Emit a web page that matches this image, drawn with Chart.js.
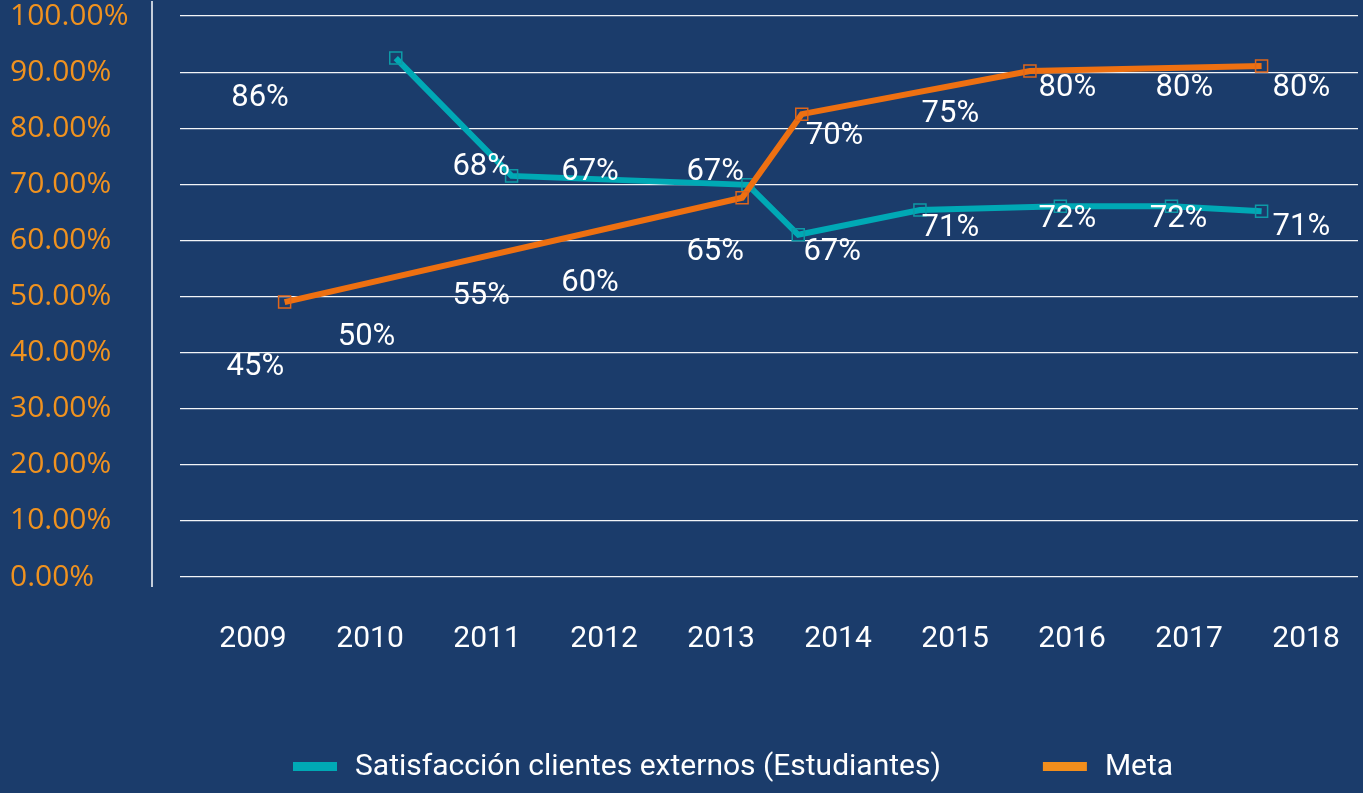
<!DOCTYPE html>
<html lang="es">
<head>
    <meta charset="UTF-8">
    <title>Satisfacción clientes externos</title>
    <script src="https://cdn.jsdelivr.net/npm/chart.js"></script>
    <style>
        body {
            margin: 0;
            background-color: #1b3c6b;
        }
        #wrap {
            width: 1363px;
            height: 793px;
        }
    </style>
</head>
<body>
    <div id="wrap"><canvas id="chart" width="1363" height="793"></canvas></div>
    <script>
        // categories and ticks
        const years = [2009, 2010, 2011, 2012, 2013, 2014, 2015, 2016, 2017, 2018];
        const yTicks = [0, 10, 20, 30, 40, 50, 60, 70, 80, 90, 100];
        const xMin = 2008.376;
        const xMax = 2018.444;

        // line vertices (year position, percent)
        const satX = [2010.22, 2011.21, 2013.23, 2013.66, 2014.70, 2015.90, 2016.85, 2017.62];
        const satY = [92.5, 71.5, 69.9, 61.0, 65.4, 66.1, 66.1, 65.2];
        const metaX = [2009.27, 2013.18, 2013.69, 2015.64, 2017.62];
        const metaY = [49.0, 67.6, 82.5, 90.2, 91.1];

        // data labels and where they sit
        const satLabels = ['86%', '68%', '67%', '67%', '67%', '71%', '72%', '72%', '71%'];
        const satLabelX = [2009.06, 2010.95, 2011.88, 2012.95, 2013.95, 2014.96, 2015.96, 2016.91, 2017.96];
        const satLabelY = [85.4, 73.1, 72.2, 72.2, 57.9, 62.2, 63.8, 63.8, 62.4];
        const metaLabels = ['45%', '50%', '55%', '60%', '65%', '70%', '75%', '80%', '80%', '80%'];
        const metaLabelX = [2009.02, 2009.97, 2010.95, 2011.88, 2012.95, 2013.97, 2014.96, 2015.96, 2016.96, 2017.96];
        const metaLabelY = [37.3, 42.8, 50.1, 52.4, 57.9, 78.6, 82.4, 87.1, 87.1, 87.1];

        const teal = '#00a9b5';
        const orange = '#ee7011';

        const toPoints = (xs, ys) => xs.map((x, i) => ({x: x, y: ys[i]}));

        // value labels on top of the lines
        const valueLabels = {
            id: 'valueLabels',
            afterDatasetsDraw(chart) {
                const {ctx, scales: {x, y}} = chart;
                const groups = [
                    [satLabels, satLabelX, satLabelY],
                    [metaLabels, metaLabelX, metaLabelY]
                ];
                ctx.save();
                ctx.font = '31px Roboto';
                ctx.fillStyle = '#ffffff';
                ctx.textAlign = 'center';
                ctx.textBaseline = 'middle';
                groups.forEach(([texts, xs, ys]) => {
                    texts.forEach((t, i) => {
                        ctx.fillText(t, x.getPixelForValue(xs[i]), y.getPixelForValue(ys[i]));
                    });
                });
                ctx.restore();
            }
        };

        // vertical axis line and legend
        const extras = {
            id: 'extras',
            afterDraw(chart) {
                const {ctx, chartArea} = chart;
                ctx.save();
                ctx.strokeStyle = '#ffffff';
                ctx.lineWidth = 1.5;
                ctx.beginPath();
                ctx.moveTo(chartArea.left - 28, chartArea.top - 15);
                ctx.lineTo(chartArea.left - 28, chartArea.bottom + 10);
                ctx.stroke();

                // legend
                const swatchColors = ['#00a9b5', '#f28e1c'];
                let lx = chartArea.left + 113;
                const ly = 767;
                ctx.font = '30px Roboto';
                ctx.textBaseline = 'middle';
                ctx.textAlign = 'left';
                chart.data.datasets.forEach((ds, i) => {
                    ctx.fillStyle = swatchColors[i];
                    ctx.fillRect(lx, ly - 5, 44, 9);
                    lx += 62;
                    ctx.fillStyle = '#ffffff';
                    ctx.fillText(ds.label, lx, ly);
                    lx += ctx.measureText(ds.label).width + 102;
                });
                ctx.restore();
            }
        };

        new Chart(document.getElementById('chart'), {
            type: 'line',
            data: {
                datasets: [
                    {
                        label: 'Satisfacción clientes externos (Estudiantes)',
                        data: toPoints(satX, satY),
                        borderColor: teal,
                        borderWidth: 6,
                        pointStyle: 'rect',
                        pointRadius: 8.5,
                        pointBorderWidth: 1.5,
                        pointBorderColor: '#0e9aa7',
                        pointBackgroundColor: 'transparent',
                        tension: 0,
                        order: 1
                    },
                    {
                        label: 'Meta',
                        data: toPoints(metaX, metaY),
                        borderColor: orange,
                        borderWidth: 6,
                        pointStyle: 'rect',
                        pointRadius: 8.5,
                        pointBorderWidth: 1.5,
                        pointBorderColor: '#e0661a',
                        pointBackgroundColor: 'transparent',
                        tension: 0,
                        order: 0
                    }
                ]
            },
            options: {
                responsive: false,
                animation: false,
                layout: {
                    autoPadding: false,
                    padding: {left: 10, top: 16, right: 5, bottom: 136}
                },
                plugins: {
                    legend: {display: false},
                    tooltip: {enabled: false}
                },
                scales: {
                    x: {
                        type: 'linear',
                        min: xMin,
                        max: xMax,
                        afterBuildTicks: (scale) => {
                            scale.ticks = years.map(v => ({value: v}));
                        },
                        afterFit: (scale) => {
                            scale.height = 80;
                            scale.paddingLeft = 0;
                            scale.paddingRight = 0;
                        },
                        grid: {display: false},
                        border: {display: false},
                        ticks: {
                            color: '#ffffff',
                            font: {family: 'Roboto', size: 30, lineHeight: 1.2},
                            padding: 36,
                            maxRotation: 0,
                            autoSkip: false,
                            callback: (v) => String(v)
                        }
                    },
                    y: {
                        min: 0,
                        max: 100,
                        afterBuildTicks: (scale) => {
                            scale.ticks = yTicks.map(v => ({value: v}));
                        },
                        afterFit: (scale) => {
                            scale.width = 170;
                            scale.paddingTop = 0;
                            scale.paddingBottom = 0;
                        },
                        grid: {
                            color: 'rgba(255,255,255,0.95)',
                            lineWidth: 1.2,
                            drawTicks: false
                        },
                        border: {display: false},
                        ticks: {
                            color: '#f0921f',
                            font: {family: 'Open Sans', size: 30, lineHeight: 1},
                            crossAlign: 'far',
                            callback: (v) => v.toFixed(2) + '%'
                        }
                    }
                }
            },
            plugins: [valueLabels, extras]
        });
    </script>
</body>
</html>
